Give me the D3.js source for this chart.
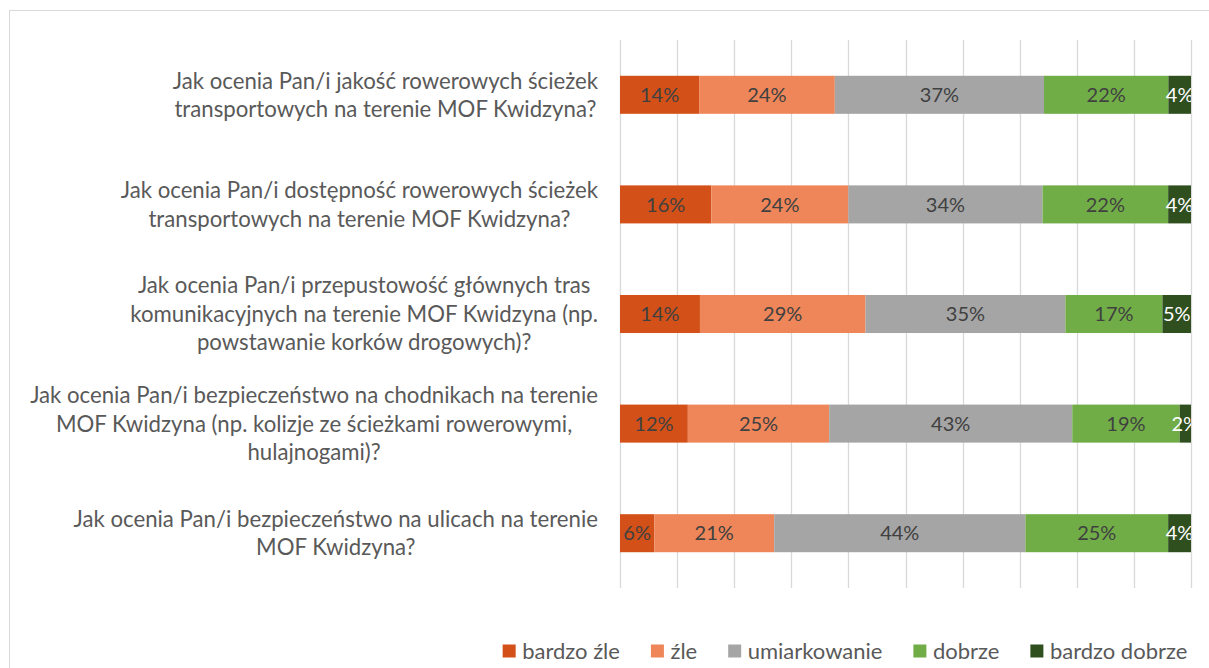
<!DOCTYPE html>
<html>
<head>
<meta charset="utf-8">
<script src="https://cdn.jsdelivr.net/npm/d3@7"></script>
<style>
  html, body { margin: 0; padding: 0; background: #fff; }
  svg { display: block; }
  text { font-family: Lato, "Open Sans", sans-serif; }
</style>
</head>
<body>
<svg id="chart" width="1209" height="668"></svg>
<script>
// Survey questions (category axis), one per bar
const questions = [
  "Jak ocenia Pan/i jakość rowerowych ścieżek transportowych na terenie MOF Kwidzyna?",
  "Jak ocenia Pan/i dostępność rowerowych ścieżek transportowych na terenie MOF Kwidzyna?",
  "Jak ocenia Pan/i przepustowość głównych tras komunikacyjnych na terenie MOF Kwidzyna (np. powstawanie korków drogowych)?",
  "Jak ocenia Pan/i bezpieczeństwo na chodnikach na terenie MOF Kwidzyna (np. kolizje ze ścieżkami rowerowymi, hulajnogami)?",
  "Jak ocenia Pan/i bezpieczeństwo na ulicach na terenie MOF Kwidzyna?"
];

// How each question label wraps onto lines
const questionLines = [
  ["Jak ocenia Pan/i jakość rowerowych ścieżek", "transportowych na terenie MOF Kwidzyna?"],
  ["Jak ocenia Pan/i dostępność rowerowych ścieżek", "transportowych na terenie MOF Kwidzyna?"],
  ["Jak ocenia Pan/i przepustowość głównych tras", "komunikacyjnych na terenie MOF Kwidzyna (np.", "powstawanie korków drogowych)?"],
  ["Jak ocenia Pan/i bezpieczeństwo na chodnikach na terenie", "MOF Kwidzyna (np. kolizje ze ścieżkami rowerowymi,", "hulajnogami)?"],
  ["Jak ocenia Pan/i bezpieczeństwo na ulicach na terenie", "MOF Kwidzyna?"]
];

// Answer categories (series)
const answers = ["bardzo źle", "źle", "umiarkowanie", "dobrze", "bardzo dobrze"];

// Share of answers in percent, per question
const bardzoZle    = [14, 16, 14, 12, 6];
const zle          = [24, 24, 29, 25, 21];
const umiarkowanie = [37, 34, 35, 43, 44];
const dobrze       = [22, 22, 17, 19, 25];
const bardzoDobrze = [4, 4, 5, 2, 4];

const seriesValues = [bardzoZle, zle, umiarkowanie, dobrze, bardzoDobrze];
const colors = ["#D35118", "#EE8659", "#A5A5A5", "#70AD47", "#2F4F1F"];
const labelColors = ["#404040", "#404040", "#404040", "#404040", "#FFFFFF"];

const rows = questions.map((q, i) => {
  const r = { question: q };
  answers.forEach((a, j) => { r[a] = seriesValues[j][i]; });
  return r;
});

const svg = d3.select("#chart");

// chart area frame
svg.append("rect")
  .attr("x", 9.5).attr("y", 10.5)
  .attr("width", 1215).attr("height", 680)
  .attr("fill", "#fff").attr("stroke", "#D9D9D9").attr("stroke-width", 1);

const plot = { left: 620, right: 1191, top: 40, bottom: 588 };

const x = d3.scaleLinear().domain([0, 1]).range([plot.left, plot.right]);
const y = d3.scaleBand().domain(questions).range([plot.top, plot.bottom])
  .paddingInner(0.653).paddingOuter(0.3265);

// vertical gridlines every 10%
svg.append("g")
  .selectAll("line")
  .data(d3.range(0, 1.0001, 0.1))
  .join("line")
  .attr("x1", d => Math.round(x(d)) + 0.5)
  .attr("x2", d => Math.round(x(d)) + 0.5)
  .attr("y1", plot.top).attr("y2", plot.bottom)
  .attr("stroke", "#D9D9D9").attr("stroke-width", 1.3);

// 100% stacked layout
const stack = d3.stack().keys(answers).offset(d3.stackOffsetExpand);
const stacked = stack(rows);

const layers = svg.append("g").selectAll("g")
  .data(stacked)
  .join("g")
  .attr("fill", (d, i) => colors[i]);

layers.selectAll("rect")
  .data(d => d)
  .join("rect")
  .attr("x", d => x(d[0]))
  .attr("width", d => x(d[1]) - x(d[0]))
  .attr("y", d => y(d.data.question))
  .attr("height", y.bandwidth());

// data labels, clipped at the plot's right edge
svg.append("clipPath").attr("id", "plotClip")
  .append("rect")
  .attr("x", 0).attr("y", 0)
  .attr("width", plot.right).attr("height", 668);

const labelG = svg.append("g").attr("clip-path", "url(#plotClip)");
stacked.forEach((layer, i) => {
  labelG.append("g").selectAll("text")
    .data(layer)
    .join("text")
    .attr("x", d => (x(d[0]) + x(d[1])) / 2)
    .attr("y", d => y(d.data.question) + y.bandwidth() / 2)
    .attr("dy", "0.36em")
    .attr("text-anchor", "middle")
    .attr("font-size", 20)
    .attr("fill", labelColors[i])
    .text(d => d.data[layer.key] + "%");
});

// category labels: lines centred within a block that ends just left of the plot
const lineH = 28.5;
const catG = svg.append("g");
questions.forEach((q, i) => {
  const lines = questionLines[i];
  const cy = y(q) + y.bandwidth() / 2;
  const g = catG.append("g");
  const texts = lines.map((ln, k) =>
    g.append("text")
      .attr("y", cy + (k - (lines.length - 1) / 2) * lineH)
      .attr("dy", "0.36em")
      .attr("text-anchor", "middle")
      .attr("font-size", 22.2)
      .attr("fill", "#595959")
      .text(ln));
  const w = d3.max(texts, t => t.node().getComputedTextLength());
  const cx = 598 - w / 2;
  texts.forEach(t => t.attr("x", cx));
});

// legend
const legendG = svg.append("g");
const legY = 651;
let lx = 0;
answers.forEach((a, i) => {
  const g = legendG.append("g");
  g.append("rect").attr("x", 0).attr("y", legY - 6.5).attr("width", 13).attr("height", 13)
    .attr("fill", colors[i]);
  const t = g.append("text").attr("x", 19.5).attr("y", legY).attr("dy", "0.36em")
    .attr("font-size", 22).attr("fill", "#595959").text(a);
  const w = 19.5 + t.node().getComputedTextLength();
  g.attr("transform", `translate(${lx},0)`);
  lx += w + 31;
});
const legendWidth = lx - 31;
legendG.attr("transform", `translate(${845 - legendWidth / 2},0)`);
</script>
</body>
</html>
